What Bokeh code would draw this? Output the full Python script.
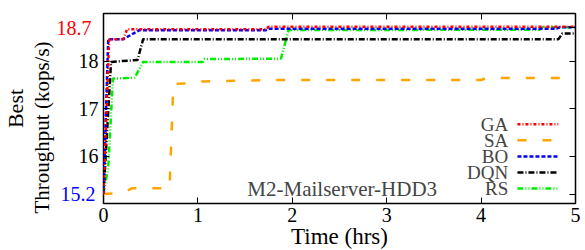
from bokeh.plotting import figure
from bokeh.models import Range1d, FixedTicker, LinearAxis, Label, Title
from bokeh.embed import file_html
from bokeh.resources import INLINE

# ---------------- data (time in hours, best throughput in kops/s) ----------------
methods = ["GA", "SA", "BO", "DQN", "RS"]

ga_t = [0.0, 0.06, 0.21, 0.25, 1.72, 1.75, 5.0]
ga_v = [15.2, 18.46, 18.46, 18.67, 18.67, 18.72, 18.72]

sa_t = [0.0, 0.20, 0.30, 0.70, 0.74, 1.00, 1.05, 1.85, 4.00, 4.05, 5.0]
sa_v = [15.2, 15.22, 15.32, 15.32, 17.52, 17.53, 17.57, 17.60, 17.60, 17.64, 17.64]

bo_t = [0.0, 0.05, 0.21, 0.38, 1.72, 1.75, 4.80, 4.83, 5.0]
bo_v = [15.2, 18.46, 18.46, 18.65, 18.65, 18.68, 18.68, 18.71, 18.71]

dqn_t = [0.0, 0.08, 0.20, 0.36, 0.42, 4.82, 4.86, 5.0]
dqn_v = [15.2, 17.98, 18.00, 18.02, 18.46, 18.46, 18.58, 18.58]

rs_t = [0.0, 0.05, 0.10, 0.33, 0.42, 1.05, 1.07, 1.88, 1.96, 4.62, 4.65, 5.0]
rs_v = [15.2, 15.75, 17.63, 17.65, 17.98, 17.98, 18.04, 18.05, 18.65, 18.66, 18.71, 18.71]

x_ticks = [0, 1, 2, 3, 4, 5]
y_ticks = [15.2, 16, 17, 18, 18.7]
y_low, y_high = 15.2, 18.7          # tick labels shown in colour
low_color, high_color = "#0000ff", "#ff0000"

title_text = "M2-Mailserver-HDD3"
x_title = "Time (hrs)"
y_title_1 = "Best"
y_title_2 = "Throughput (kops/s)"

# ---------------- styles ----------------
series = {
    "GA": (ga_t, ga_v, "#ff0000", "3 2 1 2"),
    "SA": (sa_t, sa_v, "#ffa500", "9 16"),
    "BO": (bo_t, bo_v, "#0000ff", "4 2"),
    "DQN": (dqn_t, dqn_v, "#000000", "6 2 1 2"),
    "RS": (rs_t, rs_v, "#00ee00", "6 2 1 2 1 2"),
}
draw_order = ["RS", "SA", "DQN", "BO", "GA"]
FONT = "Liberation Serif"
LW = 2.5
W18 = 20     # width of "18" label (px, estimate)
W4 = 34      # width of "15.2"/"18.7" label (px, estimate)

p = figure(width=585, height=250, x_range=Range1d(0, 5), y_range=Range1d(15, 19),
           output_backend="svg", toolbar_location=None,
           min_border_left=102, min_border_right=10, min_border_top=13, min_border_bottom=47)
p.background_fill_color = "white"
p.border_fill_color = "white"
p.outline_line_color = "black"
p.outline_line_width = 1.5
p.xgrid.visible = False
p.ygrid.visible = False

bottom = p.below[0]
left = p.left[0]
bottom.ticker = FixedTicker(ticks=x_ticks)
left.ticker = FixedTicker(ticks=[t for t in y_ticks if t not in (y_low, y_high)])

right = LinearAxis(ticker=FixedTicker(ticks=y_ticks))
top = LinearAxis(ticker=FixedTicker(ticks=x_ticks))
p.add_layout(right, "right")
p.add_layout(top, "above")

low_ax = LinearAxis(ticker=FixedTicker(ticks=[y_low]))
high_ax = LinearAxis(ticker=FixedTicker(ticks=[y_high]))
p.add_layout(low_ax, "left")
p.add_layout(high_ax, "left")

for ax in [bottom, left, right, top, low_ax, high_ax]:
    ax.major_tick_in = 6
    ax.major_tick_out = 0
    ax.minor_tick_in = 0
    ax.minor_tick_out = 0
    ax.axis_line_color = None
    ax.major_tick_line_width = 1
    ax.major_tick_line_color = "black"
    ax.major_label_text_font = FONT
    ax.major_label_text_font_size = "20px"
    ax.major_label_text_font_style = "normal"
    ax.major_label_text_color = "black"
    ax.major_label_standoff = 5
for ax in (right, top):
    ax.major_label_text_font_size = "0px"
    ax.major_label_standoff = 0
bottom.major_label_standoff = 4

# stacked left axes drawn at the same place (negative standoffs undo the stacking offset)
for ax, col in ((low_ax, low_color), (high_ax, high_color)):
    ax.major_label_text_color = col
    ax.major_tick_line_color = None
    ax.major_tick_in = 0
low_ax.major_label_standoff = -W18
high_ax.major_label_standoff = -W4

# axis titles
p.add_layout(Title(text=y_title_2, align="left", text_font=FONT, text_font_size="21px",
                   text_font_style="normal", text_color="black", standoff=0, offset=-10), "left")
p.add_layout(Title(text=y_title_1, align="center", text_font=FONT, text_font_size="22px",
                   text_font_style="normal", text_color="black", standoff=0), "left")
p.add_layout(Title(text=x_title, align="center", text_font=FONT, text_font_size="23px",
                   text_font_style="normal", text_color="black", standoff=-5), "below")

# series
for name in draw_order:
    t, v, col, dash = series[name]
    p.line(t, v, line_color=col, line_width=LW, line_dash=dash)

# annotation
p.add_layout(Label(x=1.524, y=15.295, text=title_text, text_align="left",
                   text_baseline="alphabetic", text_font=FONT, text_font_size="21px"))

# legend (gnuplot style: label left, sample right)
LEG_X0, LEG_X1, LEG_TX = 4.385, 4.818, 4.287
LEG_Y0, LEG_DY = 16.667, 0.3376
for i, name in enumerate(methods):
    t, v, col, dash = series[name]
    yy = LEG_Y0 - i * LEG_DY
    p.line([LEG_X0, LEG_X1], [yy, yy], line_color=col, line_width=LW, line_dash=dash)
    p.add_layout(Label(x=LEG_TX, y=yy, text=name, text_align="right", text_baseline="middle",
                       text_font=FONT, text_font_size="19px"))

open("out.html", "w").write(file_html(p, INLINE))
